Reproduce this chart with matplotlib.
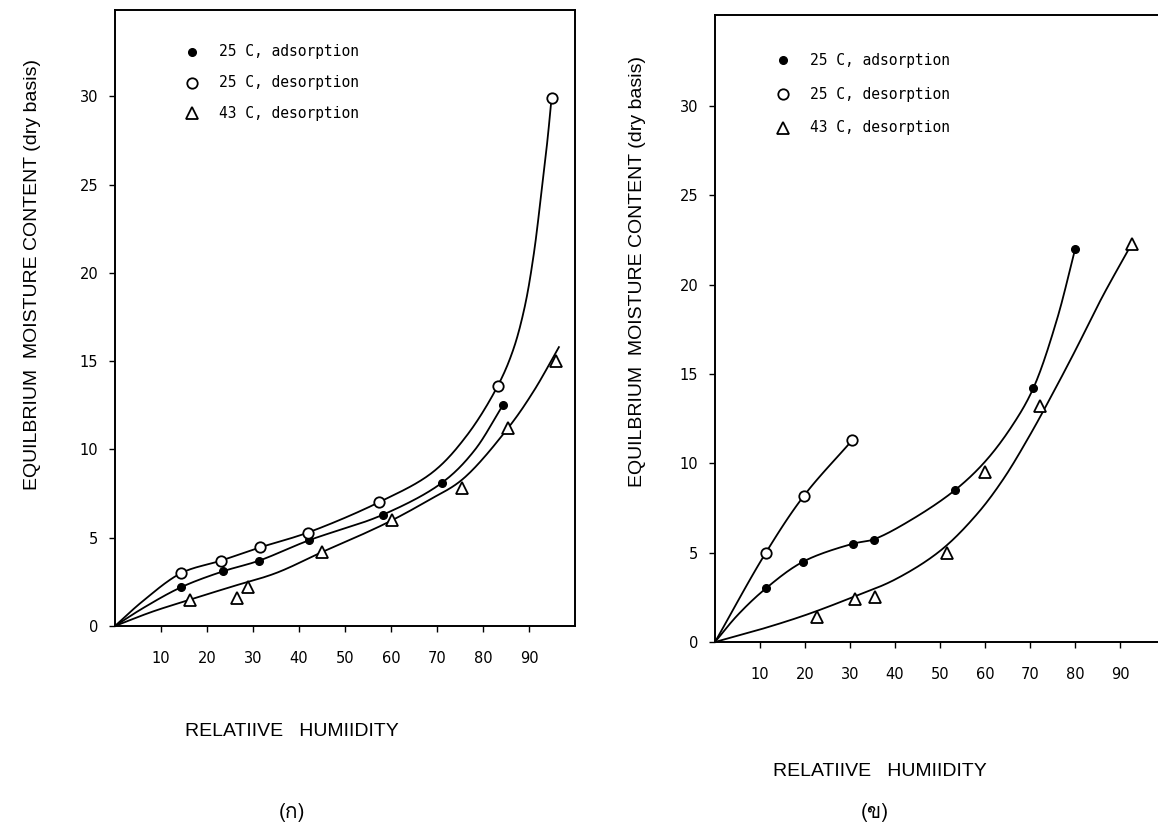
import matplotlib
matplotlib.use("Agg")
import matplotlib.pyplot as plt
import numpy as np
from matplotlib import font_manager
from matplotlib.ft2font import FT2Font

# ---- panel (a) measured points: relative humidity (%) vs EMC (% dry basis)
a_ads_rh = [14.4, 23.5, 31.3, 42.1, 58.2, 71.0, 84.3]
a_ads_emc = [2.2, 3.1, 3.7, 4.85, 6.3, 8.1, 12.5]
a_des_rh = [14.4, 23.0, 31.5, 42.0, 57.3, 83.2, 94.9]
a_des_emc = [3.0, 3.7, 4.45, 5.25, 7.0, 13.6, 29.9]
a_d43_rh = [16.4, 26.5, 29.0, 45.1, 60.3, 75.5, 85.4, 95.8]
a_d43_emc = [1.5, 1.6, 2.2, 4.2, 6.0, 7.8, 11.2, 15.0]

# panel (a) fitted curves (knots)
a_ads_fit_rh = [0, 6, 14.4, 23.5, 31.3, 42.1, 58.2, 71, 78, 84.3]
a_ads_fit_emc = [0, 1.0, 2.2, 3.1, 3.7, 4.85, 6.3, 8.1, 9.9, 12.5]
a_des_fit_rh = [0, 6, 14.4, 23, 31.5, 42, 57.3, 69, 76.5, 83.2, 86.5, 89, 91, 92.8, 94, 94.9]
a_des_fit_emc = [0, 1.4, 3.0, 3.7, 4.45, 5.3, 7.0, 8.7, 10.8, 13.6, 15.6, 18.0, 21.0, 24.8, 27.5, 29.9]
a_d43_fit_rh = [0, 8, 16.4, 25, 35, 45.1, 53, 60.3, 68, 75.5, 85.4, 91, 96.5]
a_d43_fit_emc = [0, 0.8, 1.5, 2.2, 3.0, 4.2, 5.1, 6.0, 7.1, 8.3, 11.2, 13.3, 15.8]

# ---- panel (b) measured points
b_ads_rh = [11.3, 19.6, 30.6, 35.3, 53.3, 70.7, 80.0]
b_ads_emc = [3.0, 4.5, 5.5, 5.7, 8.5, 14.2, 22.0]
b_des_rh = [11.3, 19.8, 30.5]
b_des_emc = [5.0, 8.2, 11.3]
b_d43_rh = [22.7, 31.1, 35.5, 51.5, 60.0, 72.2, 92.6]
b_d43_emc = [1.4, 2.4, 2.5, 5.0, 9.5, 13.2, 22.3]

# panel (b) fitted curves
b_ads_fit_rh = [0, 5, 11.3, 19.6, 30.6, 35.3, 44, 53.3, 60, 66, 70.7, 75.9, 80]
b_ads_fit_emc = [0, 1.5, 3.0, 4.5, 5.5, 5.75, 6.9, 8.5, 10.1, 12.1, 14.2, 18.0, 22.0]
b_des_fit_rh = [0, 11.3, 19.8, 30.5]
b_des_fit_emc = [0, 5.0, 8.2, 11.3]
b_d43_fit_rh = [0, 10, 20, 30, 40, 50, 58, 64, 70, 75, 80, 86, 92.6]
b_d43_fit_emc = [0, 0.7, 1.5, 2.45, 3.5, 5.1, 7.1, 9.1, 11.6, 13.9, 16.3, 19.3, 22.3]

x_ticks = [10, 20, 30, 40, 50, 60, 70, 80, 90]
y_ticks = [0, 5, 10, 15, 20, 25, 30]
legend_labels = ["25 C, adsorption", "25 C, desorption", "43 C, desorption"]
y_title = "EQUILBRIUM  MOISTURE CONTENT (dry basis)"
x_title = "RELATIIVE   HUMIIDITY"
panel_tags = ["(\u0e01)", "(\u0e02)"]


def font_with(char, fallback="DejaVu Sans"):
    for f in font_manager.fontManager.ttflist:
        try:
            if FT2Font(f.fname).get_char_index(ord(char)):
                return f.name
        except Exception:
            continue
    return fallback


def smooth(xs, ys, sy, n=30):
    # centripetal Catmull-Rom through the knots, in roughly screen-scaled space
    p = np.column_stack([np.asarray(xs, float), np.asarray(ys, float) * sy])
    P = np.vstack([2 * p[0] - p[1], p, 2 * p[-1] - p[-2]])
    out = []
    for i in range(1, len(P) - 2):
        p0, p1, p2, p3 = P[i - 1:i + 3]
        t0 = 0.0
        t1 = t0 + np.linalg.norm(p1 - p0) ** 0.5
        t2 = t1 + np.linalg.norm(p2 - p1) ** 0.5
        t3 = t2 + np.linalg.norm(p3 - p2) ** 0.5
        t = np.linspace(t1, t2, n)[:, None]
        a1 = (t1 - t) / (t1 - t0) * p0 + (t - t0) / (t1 - t0) * p1
        a2 = (t2 - t) / (t2 - t1) * p1 + (t - t1) / (t2 - t1) * p2
        a3 = (t3 - t) / (t3 - t2) * p2 + (t - t2) / (t3 - t2) * p3
        b1 = (t2 - t) / (t2 - t0) * a1 + (t - t0) / (t2 - t0) * a2
        b2 = (t3 - t) / (t3 - t1) * a2 + (t - t1) / (t3 - t1) * a3
        out.append((t2 - t) / (t2 - t1) * b1 + (t - t1) / (t2 - t1) * b2)
    c = np.vstack(out)
    return c[:, 0], c[:, 1] / sy


W, H = 1158, 836
fig = plt.figure(figsize=(W / 100, H / 100), dpi=100)
fig.patch.set_facecolor("white")

label_font = "Liberation Sans"
mono_font = "DejaVu Sans Mono"
thai_font = font_with("\u0e01")


def px_axes(x0, x1, y0, y1):
    return fig.add_axes([x0 / W, 1 - y1 / H, (x1 - x0) / W, (y1 - y0) / H])


def draw_panel(ax, xlim, ylim, sy, pts, fits, leg_xy, leg_step):
    ax.set_xlim(*xlim)
    ax.set_ylim(*ylim)
    for (fx, fy) in fits:
        cx, cy = smooth(fx, fy, sy)
        ax.plot(cx, cy, color="black", lw=1.3, zorder=2)
    styles = [
        dict(marker="o", ms=5.5, mfc="black", mec="black"),
        dict(marker="o", ms=7.5, mfc="white", mec="black", mew=1.3),
        dict(marker="^", ms=9, mfc="white", mec="black", mew=1.3),
    ]
    for (px, py), st in zip(pts, styles):
        ax.plot(px, py, ls="none", zorder=3, **st)
    lx, ly = leg_xy
    for i, (lab, st) in enumerate(zip(legend_labels, styles)):
        yy = ly - i * leg_step
        ax.plot([lx], [yy], ls="none", transform=ax.transAxes, zorder=3, **st)
        ax.text(lx + 0.06, yy, lab, transform=ax.transAxes, va="center",
                ha="left", fontsize=10.5, family=mono_font)
    ax.set_xticks(x_ticks)
    ax.set_yticks(y_ticks)
    ax.tick_params(direction="out", length=4, width=1, labelsize=10.5, pad=14)
    ax.tick_params(axis="y", pad=8)
    for s in ax.spines.values():
        s.set_linewidth(1.4)


# panel (a)
ax1 = px_axes(115, 575, 10, 626)
draw_panel(
    ax1, (0, 100), (0, 34.9), 3.8,
    [(a_ads_rh, a_ads_emc), (a_des_rh, a_des_emc), (a_d43_rh, a_d43_emc)],
    [(a_ads_fit_rh, a_ads_fit_emc), (a_des_fit_rh, a_des_fit_emc),
     (a_d43_fit_rh, a_d43_fit_emc)],
    (0.167, 0.932), 0.05,
)

# panel (b)
ax2 = px_axes(715, 1162, 15, 642)
draw_panel(
    ax2, (0, 99.3), (0, 35.1), 4.0,
    [(b_ads_rh, b_ads_emc), (b_des_rh, b_des_emc), (b_d43_rh, b_d43_emc)],
    [(b_ads_fit_rh, b_ads_fit_emc), (b_des_fit_rh, b_des_fit_emc),
     (b_d43_fit_rh, b_d43_fit_emc)],
    (0.152, 0.928), 0.054,
)

for x, y in [(33, 275), (637, 272)]:
    fig.text(x / W, 1 - y / H, y_title, rotation=90, ha="center", va="center",
             fontsize=14, family=label_font)
for x, y in [(292, 731), (880, 772)]:
    fig.text(x / W, 1 - y / H, x_title, ha="center", va="center",
             fontsize=14, family=label_font)
for (x, y), tag in zip([(292, 812), (875, 812)], panel_tags):
    fig.text(x / W, 1 - y / H, tag, ha="center", va="center",
             fontsize=15, family=[thai_font, "DejaVu Sans"])

fig.savefig("out.png", dpi=100, facecolor="white")
